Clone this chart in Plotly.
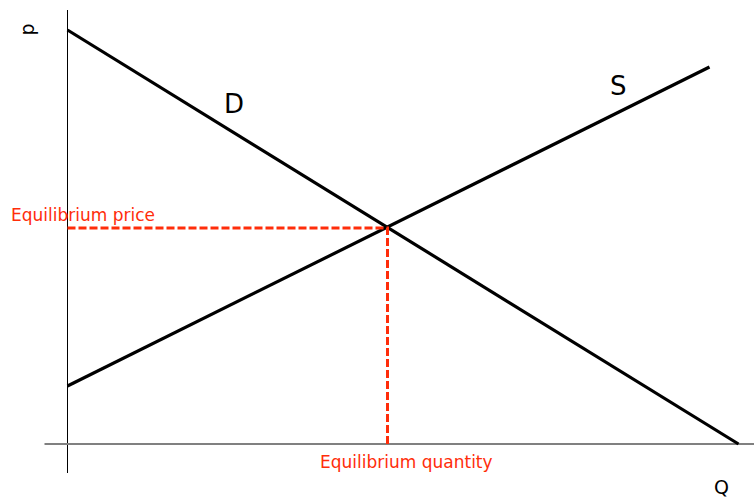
import plotly.graph_objects as go

# Data (arbitrary units: quantity on x, price on y)
demand_q = [0, 671]
demand_p = [414, 0]
supply_q = [0, 642]
supply_p = [58, 377]
eq_q = 320
eq_p = 216

RED = "#FF2D0A"
FONT = "DejaVu Sans"

fig = go.Figure()

# axes lines
fig.add_trace(go.Scatter(x=[0, 0], y=[-29, 434], mode="lines",
                         line=dict(color="black", width=1), hoverinfo="skip"))
fig.add_trace(go.Scatter(x=[-23, 690], y=[0, 0], mode="lines",
                         line=dict(color="#808080", width=2), hoverinfo="skip"))

# demand & supply
fig.add_trace(go.Scatter(x=demand_q, y=demand_p, mode="lines",
                         line=dict(color="black", width=3.2)))
fig.add_trace(go.Scatter(x=supply_q, y=supply_p, mode="lines",
                         line=dict(color="black", width=3.2)))

# equilibrium dashed lines
fig.add_trace(go.Scatter(x=[0, eq_q, eq_q], y=[eq_p, eq_p, 0], mode="lines",
                         line=dict(color=RED, width=3, dash="8px,3px")))

ann = [
    dict(x=166, y=340, text="D", font=dict(size=26, color="black", family=FONT)),
    dict(x=551, y=358, text="S", font=dict(size=26, color="black", family=FONT)),
    dict(x=654, y=-43, text="Q", font=dict(size=19, color="black", family=FONT)),
    dict(x=-41, y=414, text="p", textangle=-90, font=dict(size=19, color="black", family=FONT)),
    dict(x=-59, y=229, text="Equilibrium price", xanchor="left",
         font=dict(size=17, color=RED, family=FONT)),
    dict(x=250, y=-18, text="Equilibrium quantity", xanchor="left",
         font=dict(size=17, color=RED, family=FONT)),
]
for a in ann:
    a.setdefault("xanchor", "center")
    a.update(showarrow=False, xref="x", yref="y", yanchor="middle")
    fig.add_annotation(**a)

fig.update_layout(
    width=754, height=499,
    margin=dict(l=0, r=0, t=0, b=0),
    paper_bgcolor="white", plot_bgcolor="white",
    showlegend=False,
    xaxis=dict(range=[-67.5, 686.5], visible=False, fixedrange=True),
    yaxis=dict(range=[-55, 444], visible=False, fixedrange=True),
)

fig.write_html("out.html", config={"displayModeBar": False},
               post_script="document.body.style.margin='0';document.body.style.overflow='hidden';")
